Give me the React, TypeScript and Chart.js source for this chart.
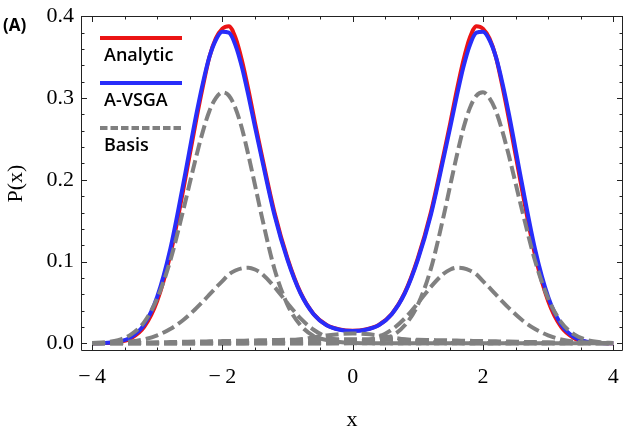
import { useEffect, useRef } from "react";
import { Chart, registerables } from "chart.js";

Chart.register(...registerables);

// Sample positions shared by every curve
const xGrid = [
  -4.0, -3.8, -3.6, -3.4, -3.2, -3.0, -2.8, -2.6, -2.4, -2.3, -2.2, -2.1, -2.0,
  -1.9, -1.8, -1.7, -1.6, -1.5, -1.4, -1.2, -1.0, -0.8, -0.6, -0.4, -0.2,
  0,
  0.2, 0.4, 0.6, 0.8, 1.0, 1.2, 1.4, 1.5, 1.6, 1.7, 1.8, 1.9, 2.0, 2.1, 2.2,
  2.3, 2.4, 2.6, 2.8, 3.0, 3.2, 3.4, 3.6, 3.8, 4.0,
];

// Exact distribution
const analytic = [
  0, 0.0003, 0.0015, 0.0062, 0.020, 0.052, 0.108, 0.188, 0.274, 0.314, 0.350, 0.373, 0.385,
  0.388, 0.374, 0.346, 0.310, 0.270, 0.232, 0.160, 0.104, 0.062, 0.036, 0.0225, 0.017,
  0.0155,
  0.017, 0.0225, 0.036, 0.062, 0.104, 0.160, 0.232, 0.270, 0.310, 0.346, 0.374, 0.388, 0.385, 0.373, 0.350,
  0.314, 0.274, 0.188, 0.108, 0.052, 0.020, 0.0062, 0.0015, 0.0003, 0,
];

// Variational approximation
const avsga = [
  0, 0.0004, 0.0020, 0.0076, 0.023, 0.057, 0.115, 0.195, 0.280, 0.318, 0.350, 0.371, 0.381,
  0.380, 0.365, 0.338, 0.303, 0.265, 0.228, 0.157, 0.102, 0.061, 0.0355, 0.022, 0.0165,
  0.0150,
  0.0165, 0.022, 0.0355, 0.061, 0.102, 0.157, 0.228, 0.265, 0.303, 0.338, 0.365, 0.380, 0.381, 0.371, 0.350,
  0.318, 0.280, 0.195, 0.115, 0.057, 0.023, 0.0076, 0.0020, 0.0004, 0,
];

// Weighted Gaussian basis functions
const basisLeftPeak = [
  0.0003, 0.0013, 0.004, 0.011, 0.026, 0.055, 0.101, 0.163, 0.229, 0.259, 0.284, 0.300, 0.307,
  0.303, 0.288, 0.263, 0.230, 0.194, 0.157, 0.091, 0.047, 0.022, 0.009, 0.004, 0.0015,
  0.0004,
  0.0001, 0, 0, 0, 0, 0, 0, 0, 0, 0, 0, 0, 0, 0, 0,
  0, 0, 0, 0, 0, 0, 0, 0, 0, 0,
];

const basisRightPeak = [
  0, 0, 0, 0, 0, 0, 0, 0, 0, 0, 0, 0, 0,
  0, 0, 0, 0, 0, 0, 0, 0, 0, 0, 0, 0.0001,
  0.0004,
  0.0015, 0.004, 0.009, 0.022, 0.047, 0.091, 0.157, 0.194, 0.230, 0.263, 0.288, 0.303, 0.307, 0.300, 0.284,
  0.259, 0.229, 0.163, 0.101, 0.055, 0.026, 0.011, 0.004, 0.0013, 0.0003,
];

const basisLeftShoulder = [
  0.0001, 0.0003, 0.0009, 0.0022, 0.0048, 0.0097, 0.0175, 0.0285, 0.043, 0.051, 0.0595, 0.068, 0.076,
  0.0843, 0.089, 0.0918, 0.0925, 0.0903, 0.0854, 0.069, 0.049, 0.0305, 0.0166, 0.0079, 0.0033,
  0.0012,
  0.0004, 0.0001, 0, 0, 0, 0, 0, 0, 0, 0, 0, 0, 0, 0, 0,
  0, 0, 0, 0, 0, 0, 0, 0, 0, 0,
];

const basisRightShoulder = [
  0, 0, 0, 0, 0, 0, 0, 0, 0, 0, 0, 0, 0,
  0, 0, 0, 0, 0, 0, 0, 0, 0, 0, 0.0001, 0.0004,
  0.0012,
  0.0033, 0.0079, 0.0166, 0.0305, 0.049, 0.069, 0.0854, 0.0903, 0.0925, 0.0918, 0.089, 0.0843, 0.076, 0.068, 0.0595,
  0.051, 0.043, 0.0285, 0.0175, 0.0097, 0.0048, 0.0022, 0.0009, 0.0003, 0.0001,
];

const basisCenter = [
  0, 0, 0, 0, 0, 0, 0, 0, 0, 0, 0, 0, 0,
  0, 0.0001, 0.0002, 0.0003, 0.0005, 0.0008, 0.0016, 0.003, 0.0049, 0.0073, 0.0096, 0.0113,
  0.012,
  0.0113, 0.0096, 0.0073, 0.0049, 0.003, 0.0016, 0.0008, 0.0005, 0.0003, 0.0002, 0.0001, 0, 0, 0, 0,
  0, 0, 0, 0, 0, 0, 0, 0, 0, 0,
];

const basisWide = [
  0.0004, 0.0005, 0.0007, 0.0008, 0.001, 0.0012, 0.0015, 0.0018, 0.0021, 0.0022, 0.0024, 0.0025, 0.0027,
  0.0029, 0.003, 0.0032, 0.0034, 0.0035, 0.0037, 0.004, 0.0043, 0.0045, 0.0047, 0.0049, 0.005,
  0.005,
  0.005, 0.0049, 0.0047, 0.0045, 0.0043, 0.004, 0.0037, 0.0035, 0.0034, 0.0032, 0.003, 0.0029, 0.0027, 0.0025, 0.0024,
  0.0022, 0.0021, 0.0018, 0.0015, 0.0012, 0.001, 0.0008, 0.0007, 0.0005, 0.0004,
];

// A collapsed basis function lying on the axis
const flatX = [-4, 4];
const flatY = [0, 0];

const xTickValues = [-4, -2, 0, 2, 4];
const xTickLabels = ["\u2212\u20094", "\u2212\u20092", "0", "2", "4"];
const yTickValues = [0, 0.1, 0.2, 0.3, 0.4];
const yTickLabels = ["0.0", "0.1", "0.2", "0.3", "0.4"];

const legendLabels = ["Analytic", "A-VSGA", "Basis"];

const RED = "rgb(235, 20, 20)";
const BLUE = "rgb(40, 45, 250)";
const GRAY = "rgb(128, 128, 128)";
const SERIF = "'Liberation Serif', 'Times New Roman', serif";
const SANS = "'Open Sans', 'Noto Sans', sans-serif";

const framePlugin = {
  id: "frameAndLegend",
  afterDraw(chart: any) {
    const { ctx, chartArea: a } = chart;
    const sx = chart.scales.x;
    const sy = chart.scales.y;
    ctx.save();

    // frame with inward ticks on all four sides
    ctx.strokeStyle = "#222";
    ctx.lineWidth = 1;
    ctx.setLineDash([]);
    ctx.beginPath();
    ctx.rect(a.left + 0.5, a.top + 0.5, a.right - a.left - 1, a.bottom - a.top - 1);
    for (let k = -8; k <= 8; k++) {
      const px = Math.round(sx.getPixelForValue(k * 0.5)) + 0.5;
      const len = k % 4 === 0 ? 6 : 3.5;
      ctx.moveTo(px, a.bottom);
      ctx.lineTo(px, a.bottom - len);
      ctx.moveTo(px, a.top);
      ctx.lineTo(px, a.top + len);
    }
    for (let k = 0; k <= 20; k++) {
      const py = Math.round(sy.getPixelForValue(k * 0.02)) + 0.5;
      const len = k % 5 === 0 ? 6 : 3.5;
      ctx.moveTo(a.left, py);
      ctx.lineTo(a.left + len, py);
      ctx.moveTo(a.right, py);
      ctx.lineTo(a.right - len, py);
    }
    ctx.stroke();

    // legend
    const styles = [
      { color: RED, width: 4, dash: [] as number[] },
      { color: BLUE, width: 4, dash: [] as number[] },
      { color: GRAY, width: 4, dash: [7.5, 3] },
    ];
    const x0 = a.left + 19;
    const x1 = a.left + 101;
    legendLabels.forEach((label, i) => {
      const y = a.top + 22 + i * 45;
      ctx.beginPath();
      ctx.strokeStyle = styles[i].color;
      ctx.lineWidth = styles[i].width;
      ctx.setLineDash(styles[i].dash);
      ctx.moveTo(x0, y);
      ctx.lineTo(x1, y);
      ctx.stroke();
      ctx.setLineDash([]);
      ctx.fillStyle = "#000";
      ctx.font = `600 18px ${SANS}`;
      ctx.textAlign = "left";
      ctx.textBaseline = "alphabetic";
      ctx.fillText(label, x0 + 4, y + 23);
    });

    // panel tag
    ctx.font = `bold 17px ${SANS}`;
    ctx.fillStyle = "#000";
    ctx.textAlign = "left";
    ctx.textBaseline = "alphabetic";
    ctx.fillText("(A)", 3, 31);
    ctx.restore();
  },
};

export default function App() {
  const ref = useRef<HTMLCanvasElement | null>(null);

  useEffect(() => {
    const canvas = ref.current;
    if (!canvas) return;
    const pts = (ys: number[]) => ys.map((y, i) => ({ x: xGrid[i], y }));
    const basis = (data: { x: number; y: number }[]) => ({
      label: "Basis",
      data,
      borderColor: GRAY,
      borderWidth: 4,
      borderDash: [13, 5],
      pointRadius: 0,
      fill: false,
      cubicInterpolationMode: "monotone" as const,
    });

    const chart = new Chart(canvas, {
      type: "line",
      data: {
        datasets: [
          basis(pts(basisLeftPeak)),
          basis(pts(basisRightPeak)),
          basis(pts(basisLeftShoulder)),
          basis(pts(basisRightShoulder)),
          basis(pts(basisCenter)),
          basis(pts(basisWide)),
          basis(flatX.map((x, i) => ({ x, y: flatY[i] }))),
          {
            label: "A-VSGA",
            data: pts(avsga),
            borderColor: BLUE,
            borderWidth: 4,
            pointRadius: 0,
            fill: false,
            cubicInterpolationMode: "monotone",
          },
          {
            label: "Analytic",
            data: pts(analytic),
            borderColor: RED,
            borderWidth: 4,
            pointRadius: 0,
            fill: false,
            cubicInterpolationMode: "monotone",
          },
        ],
      },
      options: {
        responsive: false,
        animation: false,
        events: [],
        layout: { padding: { left: 0, right: 2, top: 16, bottom: 0 } },
        plugins: { legend: { display: false }, tooltip: { enabled: false } },
        scales: {
          x: {
            type: "linear",
            min: -4.17,
            max: 4.15,
            grid: { display: false, drawTicks: false },
            border: { display: false },
            afterBuildTicks: (s: any) => {
              s.ticks = xTickValues.map((value) => ({ value }));
            },
            afterFit: (s: any) => {
              s.height = 83;
              s.paddingLeft = 0;
              s.paddingRight = 0;
            },
            ticks: {
              padding: 13,
              color: "#000",
              font: { family: SERIF, size: 22 },
              maxRotation: 0,
              autoSkip: false,
              callback: (_v: any, i: number) => xTickLabels[i],
            },
            title: {
              display: true,
              text: "x",
              color: "#000",
              font: { family: SERIF, size: 22 },
              padding: { top: 0, bottom: 1 },
            },
          },
          y: {
            type: "linear",
            min: -0.0094,
            max: 0.4004,
            grid: { display: false, drawTicks: false },
            border: { display: false },
            afterBuildTicks: (s: any) => {
              s.ticks = yTickValues.map((value) => ({ value }));
            },
            afterFit: (s: any) => {
              s.width = 81;
              s.paddingTop = 0;
              s.paddingBottom = 0;
            },
            ticks: {
              padding: 7,
              color: "#000",
              font: { family: SERIF, size: 22 },
              autoSkip: false,
              callback: (_v: any, i: number) => yTickLabels[i],
            },
            title: {
              display: true,
              text: "P(x)",
              color: "#000",
              font: { family: SERIF, size: 22 },
              padding: { top: 3, bottom: 0 },
            },
          },
        },
      },
      plugins: [framePlugin],
    });
    return () => chart.destroy();
  }, []);

  return (
    <div style={{ position: "fixed", left: 0, top: 0, width: 625, height: 434, background: "#fff" }}>
      <canvas ref={ref} width={625} height={434} style={{ display: "block" }} />
    </div>
  );
}
